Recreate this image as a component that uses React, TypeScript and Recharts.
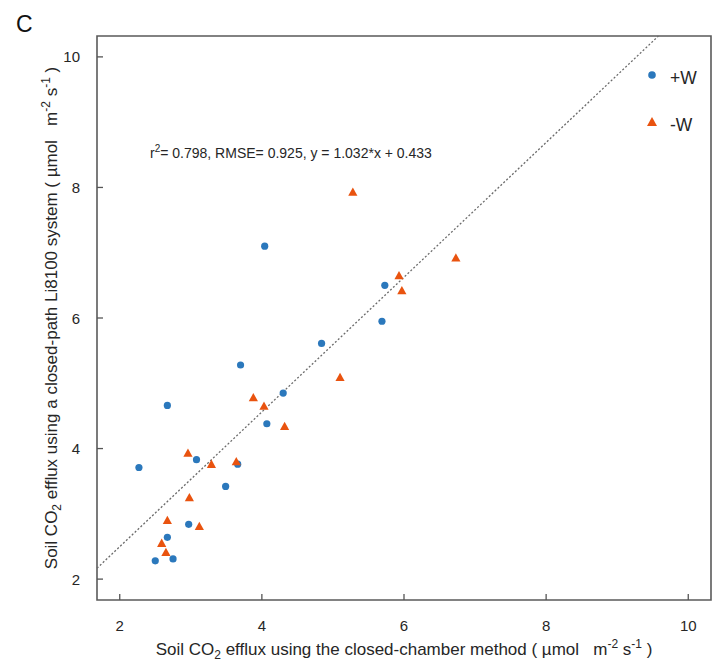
import React from 'react';
import {
  ScatterChart,
  Scatter,
  XAxis,
  YAxis,
  ReferenceLine,
  ReferenceArea,
  Customized,
} from 'recharts';

// ---- data ----
const plusW = [
  { x: 2.67, y: 4.66 },
  { x: 4.3, y: 4.85 },
  { x: 4.07, y: 4.38 },
  { x: 3.08, y: 3.83 },
  { x: 2.27, y: 3.71 },
  { x: 3.66, y: 3.76 },
  { x: 3.49, y: 3.42 },
  { x: 2.97, y: 2.84 },
  { x: 2.67, y: 2.64 },
  { x: 2.5, y: 2.28 },
  { x: 2.75, y: 2.31 },
  { x: 4.04, y: 7.1 },
  { x: 3.7, y: 5.28 },
  { x: 4.84, y: 5.61 },
  { x: 5.73, y: 6.5 },
  { x: 5.69, y: 5.95 },
];

const minusW = [
  { x: 3.88, y: 4.78 },
  { x: 4.03, y: 4.65 },
  { x: 4.32, y: 4.34 },
  { x: 2.96, y: 3.93 },
  { x: 3.29, y: 3.76 },
  { x: 3.64, y: 3.8 },
  { x: 2.98, y: 3.25 },
  { x: 2.67, y: 2.9 },
  { x: 3.12, y: 2.81 },
  { x: 2.59, y: 2.55 },
  { x: 2.65, y: 2.41 },
  { x: 5.28, y: 7.93 },
  { x: 5.93, y: 6.65 },
  { x: 5.97, y: 6.42 },
  { x: 6.73, y: 6.92 },
  { x: 5.1, y: 5.09 },
];

const ticks = [2, 4, 6, 8, 10];
const domainMin = 1.68;
const domainMax = 10.32;
const slope = 1.032;
const intercept = 0.433;
const seriesNames = ['+W', '-W'];
const BLUE = '#2B78BC';
const ORANGE = '#E9530F';
const FONT = '"Liberation Sans", Arial, sans-serif';
const TEXT = '#262626';

const lineStart = { x: domainMin, y: slope * domainMin + intercept };
const lineEnd = { x: (domainMax - intercept) / slope, y: domainMax };

const Circle = (props: any) => {
  const { cx, cy } = props;
  if (cx == null || cy == null) return null;
  return <circle cx={cx} cy={cy} r={3.6} fill={BLUE} />;
};

const Triangle = (props: any) => {
  const { cx, cy } = props;
  if (cx == null || cy == null) return null;
  const s = 4.6;
  return (
    <polygon
      points={`${cx},${cy - s} ${cx - s},${cy + s * 0.8} ${cx + s},${cy + s * 0.8}`}
      fill={ORANGE}
    />
  );
};

const XTick = (props: any) => {
  const { x, y, payload } = props;
  return (
    <g>
      <line x1={x} x2={x} y1={y} y2={y - 6} stroke="#555" strokeWidth={1.3} />
      <text x={x} y={y + 31} textAnchor="middle" fontSize={15} fill={TEXT} fontFamily={FONT}>
        {payload.value}
      </text>
    </g>
  );
};

const YTick = (props: any) => {
  const { x, y, payload } = props;
  return (
    <g>
      <line x1={x} x2={x + 6} y1={y} y2={y} stroke="#555" strokeWidth={1.3} />
      <text x={x - 17} y={y + 5.5} textAnchor="end" fontSize={15} fill={TEXT} fontFamily={FONT}>
        {payload.value}
      </text>
    </g>
  );
};

const Decorations = () => (
  <g fontFamily={FONT} fill={TEXT}>
    <text x={16} y={32} fontSize={23} fill="#111">C</text>
    <text x={150} y={158} fontSize={14} style={{ whiteSpace: 'pre' }}>
      r<tspan dy={-6} fontSize={10}>2</tspan>
      <tspan dy={6}>= 0.798, RMSE= 0.925, y = 1.032*x + 0.433</tspan>
    </text>
    <text x={404} y={655} fontSize={17} textAnchor="middle" style={{ whiteSpace: 'pre' }}>
      Soil CO<tspan dy={4} fontSize={12}>2</tspan>
      <tspan dy={-4}> efflux using the closed-chamber method ( µmol   m</tspan>
      <tspan dy={-7} fontSize={12}>-2</tspan>
      <tspan dy={7}> s</tspan>
      <tspan dy={-7} fontSize={12}>-1</tspan>
      <tspan dy={7}> )</tspan>
    </text>
    <text
      transform="translate(57,318) rotate(-90)"
      x={0}
      y={0}
      fontSize={17}
      textAnchor="middle"
      style={{ whiteSpace: 'pre' }}
    >
      Soil CO<tspan dy={4} fontSize={12}>2</tspan>
      <tspan dy={-4}> efflux using a closed-path Li8100 system ( µmol   m</tspan>
      <tspan dy={-7} fontSize={12}>-2</tspan>
      <tspan dy={7}> s</tspan>
      <tspan dy={-7} fontSize={12}>-1</tspan>
      <tspan dy={7}> )</tspan>
    </text>
    <g>
      <circle cx={652} cy={75} r={3.8} fill={BLUE} />
      <text x={670} y={84} fontSize={17.5}>{seriesNames[0]}</text>
      <polygon points="652,117 647,126 657,126" fill={ORANGE} />
      <text x={670} y={131} fontSize={17.5}>{seriesNames[1]}</text>
    </g>
  </g>
);

export default function App() {
  return (
    <div style={{ position: 'absolute', left: 0, top: 0, background: '#fff' }}>
      <ScatterChart
        width={719}
        height={669}
        margin={{ top: 36, right: 8, bottom: 0, left: 0 }}
      >
        <XAxis
          type="number"
          dataKey="x"
          domain={[domainMin, domainMax]}
          ticks={ticks}
          allowDataOverflow
          height={69}
          axisLine={false}
          tickLine={false}
          tickSize={0}
          tickMargin={0}
          tick={<XTick />}
        />
        <YAxis
          type="number"
          dataKey="y"
          domain={[domainMin, domainMax]}
          ticks={ticks}
          allowDataOverflow
          width={97}
          axisLine={false}
          tickLine={false}
          tickSize={0}
          tickMargin={0}
          tick={<YTick />}
        />
        <ReferenceArea
          x1={domainMin}
          x2={domainMax}
          y1={domainMin}
          y2={domainMax}
          fill="none"
          fillOpacity={0}
          stroke="#5a5a5a"
          strokeWidth={1.6}
          ifOverflow="extendDomain"
        />
        <ReferenceLine
          segment={[lineStart, lineEnd]}
          stroke="#6b6b6b"
          strokeWidth={1.3}
          strokeDasharray="2 2"
          ifOverflow="visible"
        />
        <Scatter name={seriesNames[0]} data={plusW} shape={<Circle />} isAnimationActive={false} />
        <Scatter name={seriesNames[1]} data={minusW} shape={<Triangle />} isAnimationActive={false} />
        <Customized component={Decorations} />
      </ScatterChart>
    </div>
  );
}
